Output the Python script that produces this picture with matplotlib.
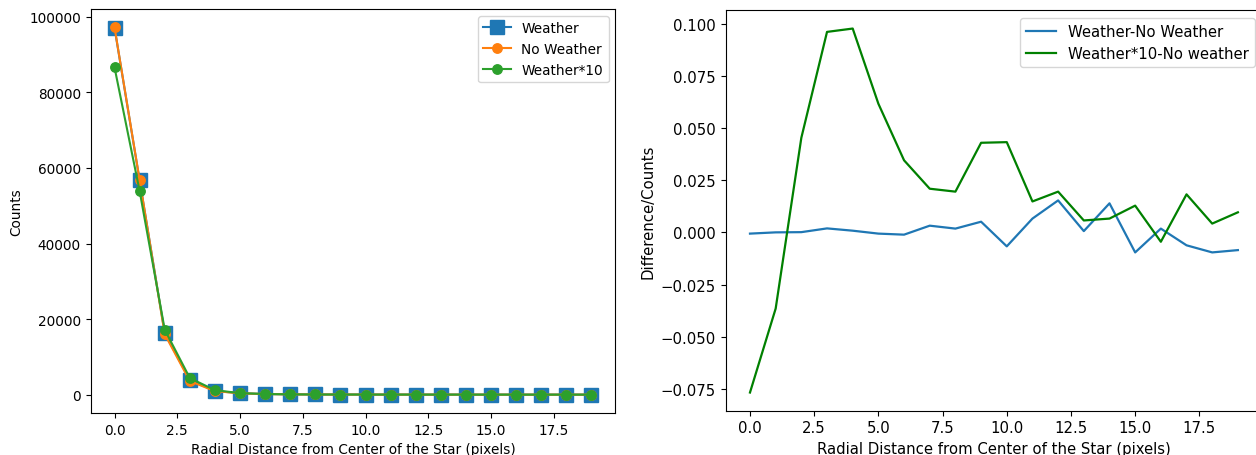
import matplotlib
matplotlib.use('Agg')
import matplotlib.pyplot as plt
import numpy as np

# Odległość radialna od środka gwiazdy (piksele)
radius = np.arange(20)

# Lewy wykres: zliczenia
weather = [97100, 56700, 16300, 3900, 1000, 380, 180, 90, 60, 50, 40, 35, 30, 30, 25, 25, 20, 20, 20, 20]
no_weather = [97200, 56800, 16000, 3600, 950, 370, 180, 90, 60, 50, 40, 35, 30, 30, 25, 25, 20, 20, 20, 20]
weather_x10 = [86600, 53900, 17200, 4400, 1200, 420, 190, 95, 60, 50, 40, 35, 30, 30, 25, 25, 20, 20, 20, 20]

# Prawy wykres: różnica względna
diff_weather = [-0.0006, 0.0000, 0.0001, 0.0019, 0.0008, -0.0006, -0.0011, 0.0032, 0.0018, 0.0051,
                -0.0067, 0.0066, 0.0153, 0.0006, 0.0139, -0.0096, 0.0018, -0.0062, -0.0096, -0.0085]
diff_weather_x10 = [-0.0767, -0.0365, 0.0453, 0.0960, 0.0976, 0.0616, 0.0345, 0.0209, 0.0195, 0.0429,
                    0.0432, 0.0148, 0.0195, 0.0057, 0.0066, 0.0128, -0.0045, 0.0182, 0.0042, 0.0096]

xlabel = 'Radial Distance from Center of the Star (pixels)'

fig = plt.figure(figsize=(12.56, 4.56), dpi=100)

# --- LEWY WYKRES ---
fs_l = 9.8
ax1 = fig.add_axes([0.0722, 0.0921, 0.4177, 0.886])
ax1.plot(radius, weather, marker='s', markersize=9.5, label='Weather')
ax1.plot(radius, no_weather, marker='o', markersize=6.8, label='No Weather')
ax1.plot(radius, weather_x10, marker='o', markersize=6.8, label='Weather*10')
ax1.set_xlabel(xlabel, fontsize=fs_l)
ax1.set_ylabel('Counts', fontsize=fs_l)
ax1.tick_params(labelsize=fs_l)
ax1.legend(fontsize=fs_l, loc='upper right')

# --- PRAWY WYKRES (lekko przycięty z prawej strony) ---
fs_r = 10.7
ax2 = fig.add_axes([0.5777, 0.0971, 0.4273, 0.878])
ax2.plot(radius, diff_weather, color='tab:blue', lw=1.6, label='Weather-No Weather')
ax2.plot(radius, diff_weather_x10, color='green', lw=1.6, label='Weather*10-No weather')
ax2.set_xlabel(xlabel, fontsize=fs_r)
ax2.set_ylabel('Difference/Counts', fontsize=fs_r)
ax2.tick_params(labelsize=fs_r)
ax2.legend(fontsize=fs_r, loc='upper right')

fig.savefig('out.png', dpi=100)
